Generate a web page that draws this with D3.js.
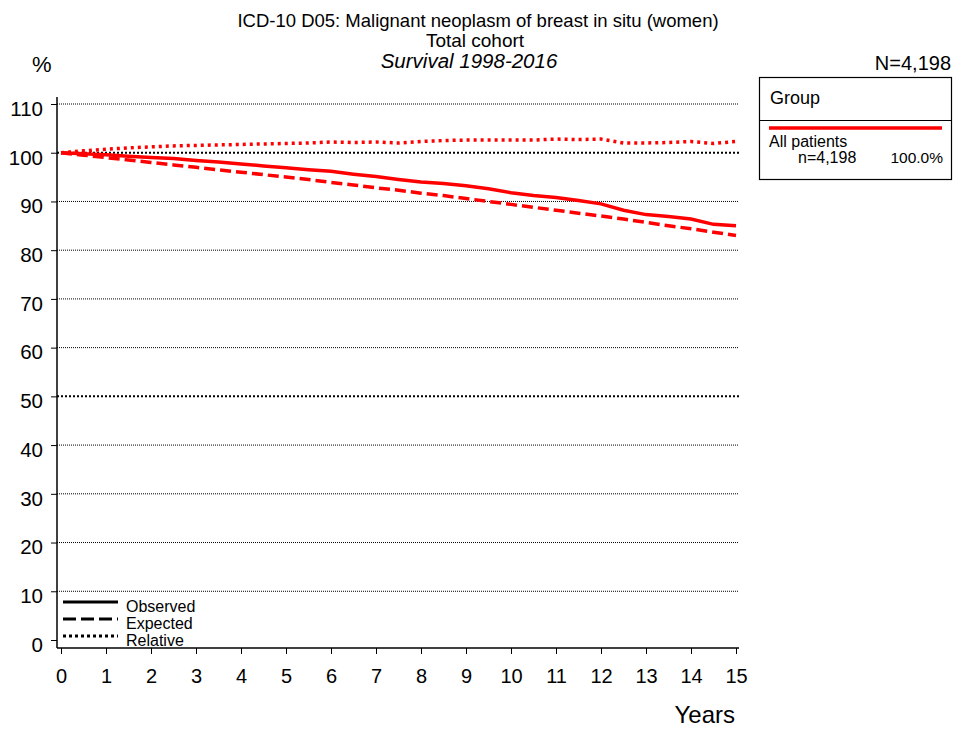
<!DOCTYPE html>
<html>
<head>
<meta charset="utf-8">
<script src="https://cdn.jsdelivr.net/npm/d3@7"></script>
<style>
  body { margin: 0; background: #fff; }
  svg { display: block; font-family: "Liberation Sans", Arial, sans-serif; }
</style>
</head>
<body>
<div class="chart"></div>
<script>
// time points (years) and the three survival curves
const years = [0, 0.5, 1, 1.5, 2, 2.5, 3, 3.5, 4, 4.5, 5, 5.5, 6, 6.5, 7, 7.5,
  8, 8.5, 9, 9.5, 10, 10.5, 11, 11.5, 12, 12.5, 13, 13.5, 14, 14.5, 15]
const observed = [100, 99.8, 99.6, 99.3, 99.0, 98.8, 98.4, 98.1, 97.7, 97.3, 96.9, 96.5,
  96.2, 95.6, 95.1, 94.5, 94.0, 93.7, 93.2, 92.6, 91.8, 91.2, 90.8, 90.2, 89.5, 88.2,
  87.3, 86.9, 86.4, 85.3, 85.0]
const expected = [100, 99.5, 99.0, 98.5, 98.0, 97.5, 97.0, 96.5, 96.0, 95.5, 95.0, 94.5,
  93.9, 93.4, 92.8, 92.3, 91.7, 91.2, 90.6, 90.0, 89.4, 88.8, 88.2, 87.6, 87.0, 86.4,
  85.7, 85.0, 84.4, 83.7, 83.0]
const relative = [100, 100.4, 100.7, 101.0, 101.2, 101.4, 101.5, 101.6, 101.7, 101.8, 101.9,
  102.0, 102.2, 102.1, 102.2, 102.0, 102.3, 102.5, 102.6, 102.6, 102.6, 102.6, 102.8,
  102.7, 102.8, 102.0, 102.0, 102.1, 102.3, 101.9, 102.3]

const xTicks = d3.range(0, 16)
const xMinor = d3.range(0, 15.01, 0.25)
const yTicks = d3.range(0, 111, 10)
const yMinor = d3.range(0, 111, 5)
const gridVals = d3.range(10, 111, 10)
const boldGrid = [50, 100]

const titleLines = ['ICD-10 D05: Malignant neoplasm of breast in situ (women)', 'Total cohort', 'Survival 1998-2016']
const groupName = 'All patients'
const groupN = 'n=4,198'
const groupPct = '100.0%'
const totalN = 'N=4,198'
const styleNames = ['Observed', 'Expected', 'Relative']

const width = 953
const height = 731

const x = d3.scaleLinear().domain([0, 15]).range([61, 736])
const y = d3.scaleLinear().domain([0, 110]).range([640, 104])

const svg = d3.select('.chart').append('svg')
  .attr('width', width)
  .attr('height', height)

// titles
svg.append('text').attr('x', 478).attr('y', 27).attr('text-anchor', 'middle')
  .style('font-size', '18.5px').text(titleLines[0])
svg.append('text').attr('x', 475).attr('y', 47).attr('text-anchor', 'middle')
  .style('font-size', '19px').text(titleLines[1])
svg.append('text').attr('x', 469).attr('y', 68).attr('text-anchor', 'middle')
  .style('font-size', '20.5px').style('font-style', 'italic').text(titleLines[2])

svg.append('text').attr('x', 32).attr('y', 72).style('font-size', '22px').text('%')
svg.append('text').attr('x', 951).attr('y', 70).attr('text-anchor', 'end')
  .style('font-size', '20px').text(totalN)

// grid
svg.append('g').selectAll('line')
  .data(gridVals)
  .join('line')
    .attr('x1', 57).attr('x2', 739)
    .attr('y1', d => y(d)).attr('y2', d => y(d))
    .attr('stroke', '#000')
    .attr('stroke-width', d => boldGrid.includes(d) ? 2 : 1)
    .attr('stroke-dasharray', d => boldGrid.includes(d) ? '2,2' : '1,1')

// axes
const xAxis = svg.append('g').attr('transform', 'translate(0,648)')
xAxis.call(d3.axisBottom(x).tickValues(xMinor).tickSize(3).tickFormat(''))
xAxis.call(d3.axisBottom(x).tickValues(xTicks).tickSize(6).tickPadding(15))
xAxis.selectAll('.domain').remove()
xAxis.selectAll('text').style('font-size', '20px').attr('fill', '#000')
xAxis.selectAll('line').attr('stroke', '#000')

const yAxis = svg.append('g').attr('transform', 'translate(57,0)')
yAxis.call(d3.axisLeft(y).tickValues(yMinor).tickSize(3).tickFormat(''))
yAxis.call(d3.axisLeft(y).tickValues(yTicks).tickSize(6).tickPadding(8))
yAxis.selectAll('.domain').remove()
yAxis.selectAll('text').style('font-size', '20.5px').attr('fill', '#000').attr('dy', '0.55em')
yAxis.selectAll('line').attr('stroke', '#000')

svg.append('line').attr('x1', 57).attr('x2', 57).attr('y1', 97).attr('y2', 648)
  .attr('stroke', '#000').attr('stroke-width', 1.5)
svg.append('line').attr('x1', 57).attr('x2', 739).attr('y1', 648).attr('y2', 648)
  .attr('stroke', '#000').attr('stroke-width', 1.5)

// curves
const line = d3.line().x(d => x(d[0])).y(d => y(d[1]))
const series = [
  { vals: expected, dash: '11,5' },
  { vals: relative, dash: '3,4' },
  { vals: observed, dash: null }
]
svg.append('g').selectAll('path')
  .data(series)
  .join('path')
    .attr('d', s => line(years.map((t, i) => [t, s.vals[i]])))
    .attr('fill', 'none')
    .attr('stroke', '#ff0000')
    .attr('stroke-width', 3.5)
    .attr('stroke-dasharray', s => s.dash)

// group legend box
const box = svg.append('g')
box.append('rect').attr('x', 759.5).attr('y', 77.5).attr('width', 192).attr('height', 102)
  .attr('fill', '#fff').attr('stroke', '#000').attr('stroke-width', 1.2)
box.append('line').attr('x1', 759.5).attr('x2', 951.5).attr('y1', 120.5).attr('y2', 120.5)
  .attr('stroke', '#000').attr('stroke-width', 1.2)
box.append('text').attr('x', 770).attr('y', 104).style('font-size', '18px').text('Group')
box.append('line').attr('x1', 769).attr('x2', 942).attr('y1', 128).attr('y2', 128)
  .attr('stroke', '#ff0000').attr('stroke-width', 3.5)
box.append('text').attr('x', 769).attr('y', 147).style('font-size', '16px').text(groupName)
box.append('text').attr('x', 798).attr('y', 163).style('font-size', '16px').text(groupN)
box.append('text').attr('x', 943).attr('y', 163).attr('text-anchor', 'end')
  .style('font-size', '15.5px').text(groupPct)

// line style legend
const dashes = [null, '13,5', '3,3']
const lg = svg.append('g')
styleNames.forEach((name, i) => {
  const ly = 602 + i * 17
  lg.append('line').attr('x1', 63).attr('x2', 118).attr('y1', ly).attr('y2', ly)
    .attr('stroke', '#000').attr('stroke-width', 3).attr('stroke-dasharray', dashes[i])
  lg.append('text').attr('x', 126).attr('y', ly + 10).style('font-size', '16px').text(name)
})

svg.append('text').attr('x', 735).attr('y', 723).attr('text-anchor', 'end')
  .style('font-size', '24px').text('Years')
</script>
</body>
</html>
